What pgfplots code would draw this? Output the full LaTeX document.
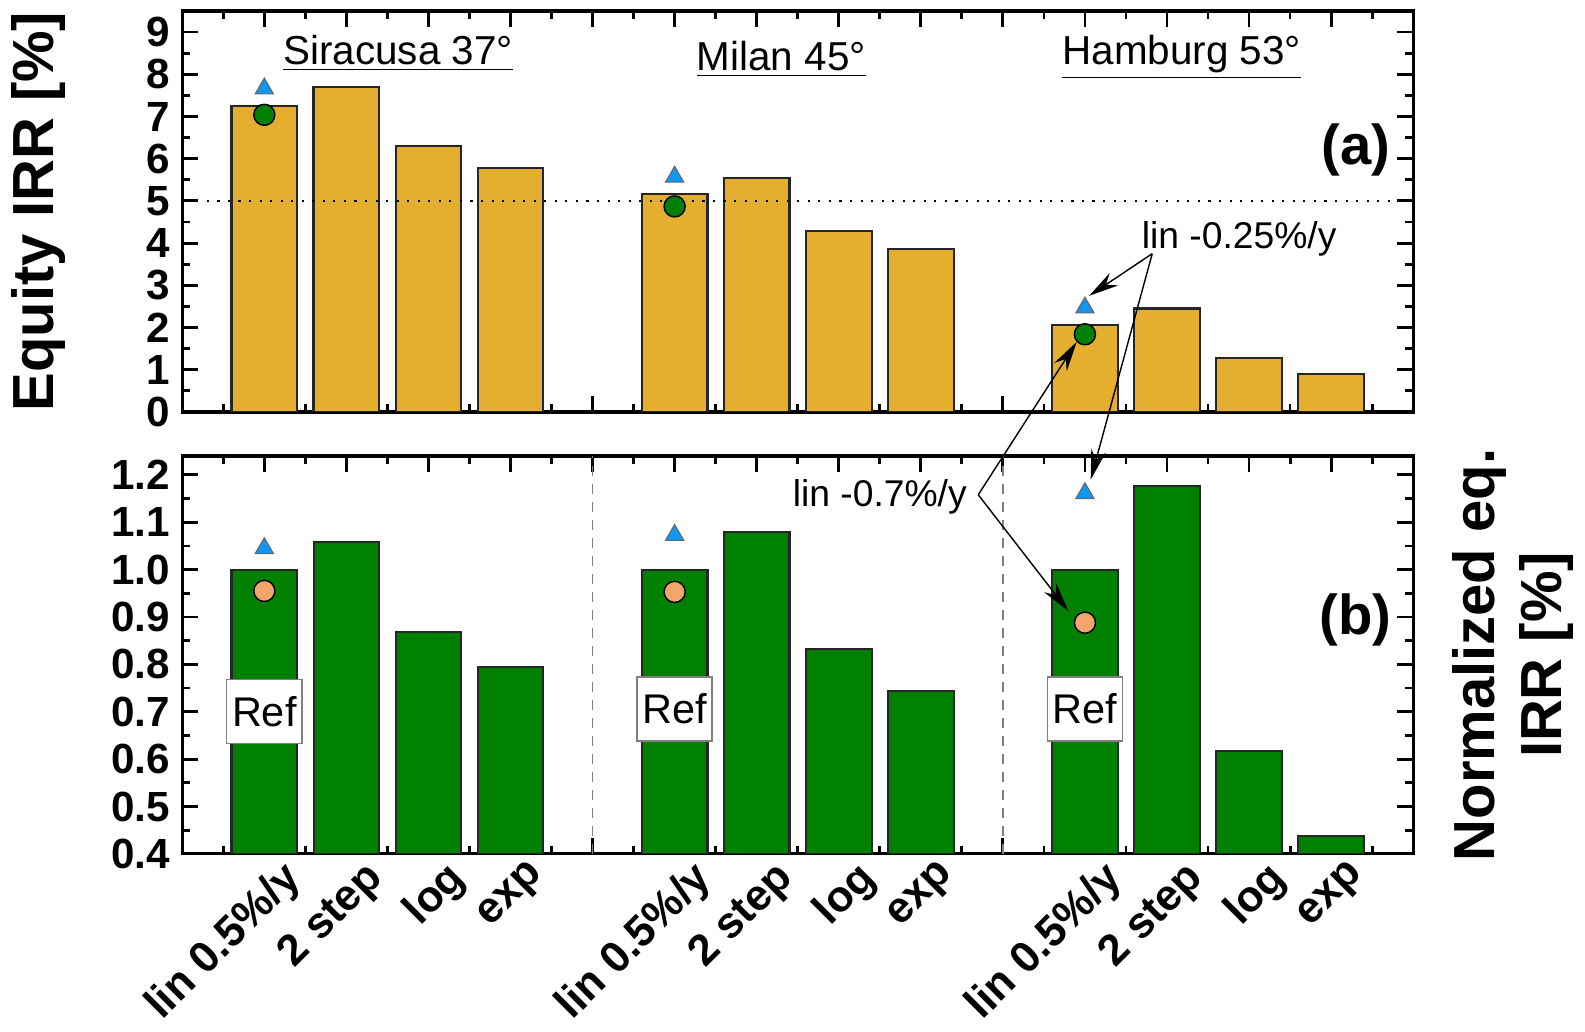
\documentclass[border=0pt]{standalone}
\usepackage{fontspec}
\setmainfont{Liberation Sans}
\usepackage{pgfplots}
\pgfplotsset{compat=1.18}
\usetikzlibrary{arrows.meta}

\definecolor{barorange}{RGB}{228,174,46}
\definecolor{bargreen}{RGB}{0,128,0}
\definecolor{triblue}{RGB}{18,150,240}
\definecolor{dotorange}{RGB}{242,166,108}

\tikzset{
  refbox/.style={draw=black!50, fill=white, line width=0.4pt, inner xsep=1.5pt,
    minimum height=6.4mm, font=\fontsize{11.8}{14}\selectfont},
  annarrow/.style={line width=0.4pt, -{Stealth[length=3mm, width=1.5mm]}},
}

\pgfplotsset{
  panel/.style={
    scale only axis,
    width=123.1mm,
    xmin=0, xmax=15,
    xtick={1,...,14},
    minor xtick={0.5,1.5,...,14.5},
    tick align=inside,
    major tick length=1.6mm,
    minor tick length=0.8mm,
    every tick/.style={black, line width=0.8pt},
    axis line style={line width=0.9pt},
    tick label style={font=\bfseries\fontsize{12}{14}\selectfont},
    /pgf/number format/assume math mode=true,
    label style={font=\bfseries\fontsize{16.5}{19}\selectfont},
    clip=true,
  },
  bars/.style={ybar, bar width=0.8, draw=black!85, line width=0.6pt},
  tri/.style={only marks, mark=triangle*, mark size=3pt,
    mark options={fill=triblue, draw=black!60, line width=0.3pt}},
  dot/.style={only marks, mark=*, mark size=3pt,
    mark options={draw=black!70, line width=0.4pt}},
}

\begin{document}
\begin{tikzpicture}
% (a) equity IRR
\begin{axis}[panel, name=top,
    height=40.1mm,
    ymin=0, ymax=9.5,
    ytick={0,...,9},
    minor ytick={0.5,1.5,...,8.5},
    xticklabels={},
    ylabel={Equity IRR [\%]},
    ylabel style={at={(axis description cs:-0.1166,0.5)}, anchor=center},
]
\addplot[bars, fill=barorange] coordinates {
  (1,7.25) (2,7.69) (3,6.30) (4,5.77)
  (6,5.16) (7,5.55) (8,4.28) (9,3.85)
  (11,2.07) (12,2.45) (13,1.28) (14,0.90)
};
\draw[line width=0.7pt, dash pattern=on 0.6pt off 2.4pt] (axis cs:0.3,5) -- (axis cs:15,5);
\addplot[tri] coordinates {(1,7.66) (6,5.57) (11,2.47)};
\addplot[dot, mark options={fill=bargreen}] coordinates {(1,7.04) (6,4.87) (11,1.84)};

\node[font=\fontsize{11.5}{13}\selectfont] at (axis cs:2.63,8.5) {\underline{Siracusa 37°}};
\node[font=\fontsize{11.5}{13}\selectfont] at (axis cs:7.3,8.35) {\underline{Milan 45°}};
\node[font=\fontsize{11.5}{13}\selectfont] at (axis cs:12.18,8.4) {\underline{Hamburg 53°}};
\node[font=\bfseries\fontsize{16}{18}\selectfont] at (axis cs:14.3,6.2) {(a)};
\node[font=\fontsize{10.6}{13}\selectfont] at (axis cs:12.88,4.1) {lin -0.25\%/y};

\coordinate (a0) at (axis cs:11.82,3.75);
\coordinate (a1) at (axis cs:11.05,2.75);
\coordinate (b1) at (axis cs:10.9,1.66);
\end{axis}

% (b) normalised IRR
\begin{axis}[panel, name=bottom,
    at={(top.south west)}, yshift=-4.4mm, anchor=north west,
    height=39.8mm,
    ymin=0.4, ymax=1.24,
    ytick={0.4,0.5,0.6,0.7,0.8,0.9,1.0,1.1,1.2},
    minor ytick={0.45,0.55,0.65,0.75,0.85,0.95,1.05,1.15},
    yticklabel style={/pgf/number format/.cd, fixed, fixed zerofill, precision=1},
    xticklabels={lin 0.5\%/y,2 step,log,exp,,lin 0.5\%/y,2 step,log,exp,,lin 0.5\%/y,2 step,log,exp},
    xticklabel style={xshift=1.6mm, yshift=0.2mm, rotate=45, anchor=north east,
      inner sep=1pt, font=\bfseries\fontsize{12.4}{14}\selectfont},
    ylabel={Normalized eq.\\IRR [\%]},
    ylabel style={at={(axis description cs:1.081,0.5)}, anchor=center, align=center},
]
\draw[gray, line width=0.5pt, dash pattern=on 1mm off 0.8mm] (axis cs:5,0.4) -- (axis cs:5,1.24);
\draw[gray, line width=0.5pt, dash pattern=on 1mm off 0.8mm] (axis cs:10,0.4) -- (axis cs:10,1.24);
\addplot[bars, fill=bargreen] coordinates {
  (1,1.000) (2,1.059) (3,0.869) (4,0.795)
  (6,1.000) (7,1.079) (8,0.832) (9,0.744)
  (11,1.000) (12,1.177) (13,0.618) (14,0.437)
};
\addplot[tri] coordinates {(1,1.045) (6,1.073) (11,1.161)};
\addplot[dot, mark options={fill=dotorange}] coordinates {(1,0.955) (6,0.953) (11,0.888)};

\node[refbox] at (axis cs:1,0.70) {Ref};
\node[refbox] at (axis cs:6,0.706) {Ref};
\node[refbox] at (axis cs:11,0.706) {Ref};
\node[font=\fontsize{10.6}{13}\selectfont] at (axis cs:8.5,1.153) {lin -0.7\%/y};
\node[font=\bfseries\fontsize{16}{18}\selectfont] at (axis cs:14.3,0.894) {(b)};

\coordinate (a2) at (axis cs:11.07,1.19);
\coordinate (b0) at (axis cs:9.7,1.158);
\coordinate (b2) at (axis cs:10.8,0.912);
\end{axis}

\draw[annarrow] (a0) -- (a1);
\draw[annarrow] (a0) -- (a2);
\draw[annarrow] (b0) -- (b1);
\draw[annarrow] (b0) -- (b2);
\end{tikzpicture}
\end{document}
